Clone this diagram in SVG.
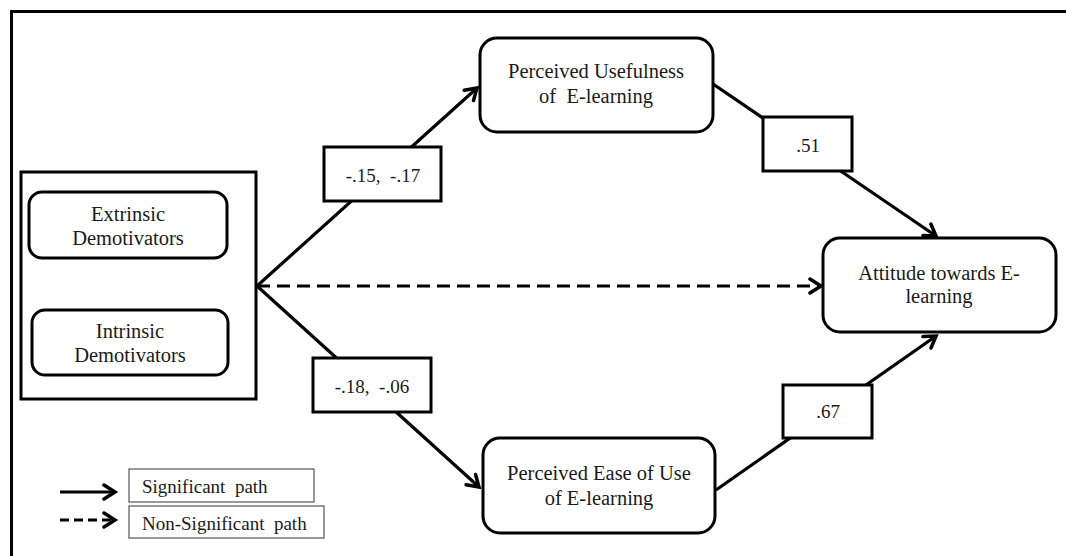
<svg xmlns="http://www.w3.org/2000/svg" width="1066" height="556" viewBox="0 0 1066 556">
<style>
.t{font-family:"Liberation Serif","Times New Roman",serif;font-size:20.5px;fill:#1a1a1a;text-anchor:middle}
.lb{font-family:"Liberation Serif","Times New Roman",serif;font-size:19px;fill:#1a1a1a;text-anchor:middle}
.lg{font-family:"Liberation Serif","Times New Roman",serif;font-size:19px;fill:#1a1a1a}
.node{fill:#fff;stroke:#000;stroke-width:3}
.lbox{fill:#fff;stroke:#000;stroke-width:3}
.legbox{fill:#fff;stroke:#555;stroke-width:1.2}
.edge{fill:none;stroke:#000;stroke-width:3.2}
.dash{stroke-dasharray:13 7}
</style>
<defs>
<marker id="arr" markerWidth="18" markerHeight="18" refX="14" refY="9" orient="auto" markerUnits="userSpaceOnUse" viewBox="0 0 18 18">
<path d="M3,2 L14,9 L3,16" fill="none" stroke="#000" stroke-width="3.5" stroke-linecap="round"/>
</marker>
</defs>
<rect width="1066" height="556" fill="#fff"/>
<path d="M11.5,556 L11.5,11.5 L1066,11.5" fill="none" stroke="#000" stroke-width="3"/>

<g id="connectors">
<line class="edge" x1="257" y1="286" x2="477" y2="88" marker-end="url(#arr)"/>
<line class="edge" x1="257" y1="286" x2="479" y2="487" marker-end="url(#arr)"/>
<line class="edge dash" x1="257" y1="286" x2="821" y2="286" marker-end="url(#arr)"/>
<line class="edge" x1="713" y1="84" x2="936" y2="236" marker-end="url(#arr)"/>
<line class="edge" x1="716" y1="490" x2="936" y2="336" marker-end="url(#arr)"/>
</g>

<g id="demotivators">
<rect x="21" y="172" width="235" height="227" fill="#fff" stroke="#000" stroke-width="3"/>
<g id="extrinsic">
<rect class="node" x="29" y="192" width="198" height="66" rx="13"/>
<text class="t" x="128" y="221">Extrinsic</text>
<text class="t" x="128" y="245">Demotivators</text>
</g>
<g id="intrinsic">
<rect class="node" x="32" y="310" width="196" height="65" rx="13"/>
<text class="t" x="130" y="338">Intrinsic</text>
<text class="t" x="130" y="362">Demotivators</text>
</g>
</g>

<g id="usefulness">
<rect class="node" x="480" y="38" width="233" height="94" rx="17"/>
<text class="t" x="596" y="78">Perceived Usefulness</text>
<text class="t" x="596" y="103" xml:space="preserve">of  E-learning</text>
</g>

<g id="ease">
<rect class="node" x="483" y="438" width="232" height="95" rx="17"/>
<text class="t" x="599" y="480">Perceived Ease of Use</text>
<text class="t" x="599" y="505">of E-learning</text>
</g>

<g id="attitude">
<rect class="node" x="823" y="238" width="233" height="94" rx="17"/>
<text class="t" x="939" y="280">Attitude towards E-</text>
<text class="t" x="939" y="303">learning</text>
</g>

<g id="label-pu">
<rect class="lbox" x="324" y="147" width="117" height="54"/>
<text class="lb" x="383" y="182" xml:space="preserve">-.15,  -.17</text>
</g>
<g id="label-peou">
<rect class="lbox" x="313" y="358" width="118" height="54"/>
<text class="lb" x="372" y="393" xml:space="preserve">-.18,  -.06</text>
</g>
<g id="label-51">
<rect class="lbox" x="763" y="117" width="89" height="54"/>
<text class="lb" x="808" y="152">.51</text>
</g>
<g id="label-67">
<rect class="lbox" x="783" y="385" width="89" height="53"/>
<text class="lb" x="828" y="418">.67</text>
</g>

<g id="legend">
<line class="edge" x1="60" y1="492" x2="115" y2="492" stroke-width="4" marker-end="url(#arr)"/>
<line class="edge" x1="60" y1="520" x2="115" y2="520" stroke-width="4" stroke-dasharray="9 5" marker-end="url(#arr)"/>
<rect class="legbox" x="129" y="469" width="185" height="33"/>
<text class="lg" x="142" y="493" xml:space="preserve">Significant  path</text>
<rect class="legbox" x="129" y="506" width="195" height="32"/>
<text class="lg" x="142" y="530" xml:space="preserve">Non-Significant  path</text>
</g>
</svg>
